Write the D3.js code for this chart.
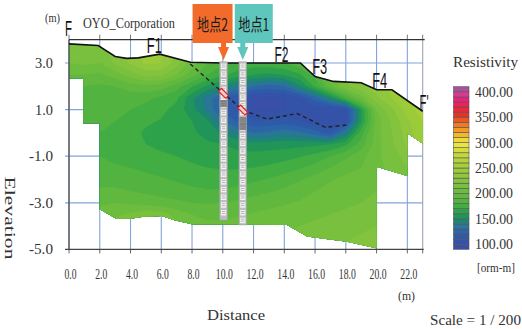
<!DOCTYPE html>
<html>
<head>
<meta charset="utf-8">
<script src="https://cdn.jsdelivr.net/npm/d3@7"></script>
<style>
  body { margin: 0; background: #fff; }
  svg { display: block; }
</style>
</head>
<body>
<svg id="chart" width="522" height="329"></svg>
<script>
// ---- axis ticks ----
const distTicks = [0, 2, 4, 6, 8, 10, 12, 14, 16, 18, 20, 22];
const elevTicks = [3, 1, -1, -3, -5];
const legendTicks = [400, 350, 300, 250, 200, 150, 100];

// ---- resistivity colour bands (ohm-m) ----
const bandEdges = [90, 100, 110, 120, 130, 140, 150, 160, 170, 180, 190, 200, 210, 220, 230, 240,
                   250, 260, 270, 280, 290, 300, 310, 320, 330, 340, 350, 360, 370, 380, 390, 400, 410];
const bandColors = ["#3a4fa8", "#3452a8", "#2f5aaa", "#2d66a8", "#2a7598", "#1f8478", "#21945a", "#2ea24a",
                    "#42ad42", "#52b340", "#60b83f", "#6cbc3e", "#78c03e", "#84c33d", "#90c73c", "#9ccb3a",
                    "#a8cf38", "#b6d337", "#c4d83a", "#d4dd3c", "#e8e442", "#f0d838", "#f2b82a", "#f29a24",
                    "#f07a22", "#ee5522", "#ea3028", "#ec2838", "#ee2258", "#e82080", "#d83a90", "#a8509c"];

// ---- measurement grid: distance (m) x elevation (m) ----
const gridDist = [0, 1, 2, 3, 4, 5, 6, 7, 8, 9, 10, 11, 12, 13, 14, 15, 16, 17, 18, 19, 20, 21, 22, 23];
const gridElev = [4, 3.5, 3, 2.5, 2, 1.5, 1, 0.5, 0, -0.5, -1, -1.5, -2, -2.5, -3, -3.5, -4, -4.5, -5];
const resistivity = [
  [222,220,218,228,236,244,244,232,210,192,184,180,178,178,182,190,205,220,228,235,240,245,255,265],
  [218,218,215,226,234,243,243,230,208,191,183,179,177,177,181,189,205,220,228,235,240,245,255,265],
  [210,212,210,222,232,242,240,225,205,190,182,178,176,176,180,188,205,220,228,235,240,245,255,265],
  [200,200,198,205,215,224,222,210,195,180,172,165,160,158,160,168,185,205,220,230,238,245,252,262],
  [192,190,188,190,195,198,195,185,170,158,148,138,130,125,128,148,172,198,218,228,235,242,250,260],
  [188,187,186,185,184,182,178,172,152,135,120,110,100, 98,100,108,125,148,178,205,228,240,250,260],
  [186,185,184,183,180,177,173,166,153,138,118,108, 98, 98,100,104,104,100,102,158,210,228,245,255],
  [185,184,182,180,176,172,169,165,160,152,132,118,112,112,115,110,102,100,106,158,205,222,238,250],
  [184,182,180,178,174,168,166,164,162,156,148,138,130,132,136,132,125,114,140,175,206,220,235,248],
  [183,181,180,177,173,170,167,165,163,162,160,157,155,156,156,157,158,160,168,185,206,218,232,245],
  [182,181,180,178,176,174,172,170,167,165,164,163,163,164,166,169,173,180,188,196,208,215,225,235],
  [183,182,182,181,180,178,176,174,172,170,169,169,170,172,175,179,184,190,196,200,208,212,220,230],
  [186,186,186,186,185,183,181,179,177,175,175,176,178,181,185,189,194,199,203,206,210,212,215,220],
  [192,192,192,192,190,188,186,184,182,181,181,183,186,189,192,196,200,204,206,208,210,212,214,218],
  [198,198,198,200,198,196,194,192,190,189,190,192,195,197,199,201,204,206,208,210,212,213,215,218],
  [205,205,205,208,212,218,215,206,200,198,198,199,201,203,204,206,208,210,212,214,216,217,218,220],
  [210,210,210,214,220,226,222,212,205,202,202,203,205,207,208,210,212,214,216,218,220,220,220,222],
  [212,212,212,216,222,228,225,215,208,205,205,206,208,210,211,213,215,217,219,221,222,222,222,224],
  [214,214,214,218,224,230,227,218,210,207,207,208,210,212,213,215,217,219,221,223,224,224,224,226]
];

// ---- ground surface (distance, elevation) ----
const surface = [[0, 3.82], [1.9, 3.75], [3.0, 3.28], [3.75, 3.20], [4.5, 3.22], [5.9, 3.38], [7.9, 3.03],
                 [10, 3.0], [15.05, 3.0], [16.0, 2.42], [17.2, 2.21], [19.0, 2.15], [20.0, 1.85],
                 [21.0, 1.85], [23.0, 0.93]];
// ---- limit of the analysed section, from the right end round to the left end ----
const sectionLimit = [[23, -0.45], [22, -0.02], [22, -1.85], [20, -1.45], [20, -4.95], [18.09, -4.67],
                      [15.49, -4.45], [14.18, -3.95], [10.27, -3.92], [7.99, -3.92], [6.8, -3.74],
                      [6.04, -3.57], [4.84, -3.6], [4.08, -3.67], [3.1, -3.7], [2.0, -3.28],
                      [2.0, 0.41], [0.93, 0.41], [0.93, 2.35], [0, 2.35]];
// ---- estimated slip surface ----
const slipSurface = [[7.88, 2.96], [10.05, 1.70], [11.3, 0.98], [12.88, 0.59], [14.83, 0.83],
                     [16.68, 0.24], [18.09, 0.34]];
// ---- fault labels ----
const faults = [
  { name: "F",  dist: -0.26, elev: 4.16 },
  { name: "F1", dist: 5.06,  elev: 3.43 },
  { name: "F2", dist: 13.36, elev: 3.06 },
  { name: "F3", dist: 15.81, elev: 2.53 },
  { name: "F4", dist: 19.72, elev: 1.93 },
  { name: "F'", dist: 22.8,  elev: 0.98 }
];
// ---- boreholes ----
const boreholes = [
  { name: "地点2", dist: 10.05, top: 3.05, bottom: -3.74, slip: 1.70, color: "#f26b2b", dark: [[1.41, 1.11]] },
  { name: "地点1", dist: 11.3,  top: 3.05, bottom: -3.95, slip: 0.98, color: "#5ec6bd", dark: [[0.68, 0.12]] }
];

// ================= drawing =================
const svg = d3.select("#chart");
const x = d3.scaleLinear().domain([0, 23]).range([69, 422.7]);
const y = d3.scaleLinear().domain([4, -5]).range([39.7, 249.4]);

function txt(parent, s, px, py, o = {}) {
  const t = parent.append("text").attr("x", px).attr("y", py).text(s)
    .attr("font-family", o.family || "'Liberation Serif', 'DejaVu Serif', serif")
    .attr("font-size", o.size || 14)
    .attr("fill", o.fill || "#333")
    .attr("text-anchor", o.anchor || "start");
  if (o.len) t.attr("textLength", o.len).attr("lengthAdjust", "spacingAndGlyphs");
  if (o.rotate) t.attr("transform", `rotate(${o.rotate},${px},${py})`);
  return t;
}

// grid
const grid = svg.append("g");
const gridColor = "#84a4da";
distTicks.concat([23]).forEach(d => {
  grid.append("line").attr("x1", x(d)).attr("x2", x(d)).attr("y1", y(4)).attr("y2", y(-5))
    .attr("stroke", d === 23 ? "#9aa4b4" : gridColor).attr("stroke-width", 1.1);
  grid.append("line").attr("x1", x(d)).attr("x2", x(d)).attr("y1", y(4) - 5).attr("y2", y(4))
    .attr("stroke", "#777").attr("stroke-width", 1);
  grid.append("line").attr("x1", x(d)).attr("x2", x(d)).attr("y1", y(-5)).attr("y2", y(-5) + 4)
    .attr("stroke", "#666").attr("stroke-width", 1);
});
elevTicks.filter(e => e > -5).forEach(e => {
  grid.append("line").attr("x1", x(0) - 4).attr("x2", x(23)).attr("y1", y(e)).attr("y2", y(e))
    .attr("stroke", gridColor).attr("stroke-width", 1.2);
});

// clip to the analysed section
const line = d3.line().x(d => x(d[0])).y(d => y(d[1]));
svg.append("clipPath").attr("id", "section")
  .append("path").attr("d", line(surface.concat(sectionLimit)) + "Z");

// filled resistivity contours
const nx = gridDist.length, ny = gridElev.length;
const dStep = gridDist[1] - gridDist[0], eStep = gridElev[0] - gridElev[1];
const values = resistivity.flat();
const bands = d3.contours().size([nx, ny]).thresholds(bandEdges.slice(0, -1))(values);
const proj = d3.geoTransform({
  point(px, py) {
    this.stream.point(x(gridDist[0] + (px - 0.5) * dStep), y(gridElev[0] - (py - 0.5) * eStep));
  }
});
const geo = d3.geoPath(proj);
const field = svg.append("g").attr("clip-path", "url(#section)");
bands.forEach((c, i) => {
  field.append("path").attr("d", geo(c)).attr("fill", bandColors[i])
    .attr("stroke", bandColors[i]).attr("stroke-width", 0.4);
});

// axes frame
svg.append("line").attr("x1", x(0)).attr("x2", x(23) + 2).attr("y1", y(4)).attr("y2", y(4))
  .attr("stroke", "#333").attr("stroke-width", 1.2);
svg.append("line").attr("x1", x(0)).attr("x2", x(0)).attr("y1", y(4)).attr("y2", y(-5))
  .attr("stroke", "#444").attr("stroke-width", 1.2);
svg.append("line").attr("x1", x(0) - 4).attr("x2", x(23) + 1).attr("y1", y(-5)).attr("y2", y(-5))
  .attr("stroke", "#444").attr("stroke-width", 1.2);

// ground surface
svg.append("path").attr("d", line(surface)).attr("fill", "none")
  .attr("stroke", "#111").attr("stroke-width", 1.6);

// boreholes
const bh = svg.append("g");
boreholes.forEach(b => {
  const cx = x(b.dist), yt = y(b.top), yb = y(b.bottom), w = 7.6;
  bh.append("rect").attr("x", cx - w / 2).attr("y", yt).attr("width", w).attr("height", yb - yt)
    .attr("fill", "#bdbdbd").attr("stroke", "#a0a0a0").attr("stroke-width", 0.6);
  const cellH = 7.7;
  for (let yy = yt + 1; yy + cellH - 1 < yb; yy += cellH) {
    bh.append("rect").attr("x", cx - 2.6).attr("y", yy + 0.8).attr("width", 5.2).attr("height", cellH - 2.2)
      .attr("fill", "#f4f4f4");
    [2.3, 4.3].forEach(o => bh.append("line").attr("x1", cx - 1.8).attr("x2", cx + 1.8)
      .attr("y1", yy + o).attr("y2", yy + o).attr("stroke", "#9a9a9a").attr("stroke-width", 0.7));
  }
  b.dark.forEach(r => {
    bh.append("rect").attr("x", cx - w / 2 + 0.5).attr("y", y(r[0])).attr("width", w - 1)
      .attr("height", y(r[1]) - y(r[0])).attr("fill", "#6a6a6a").attr("opacity", 0.75);
  });
});

// slip surface
svg.append("path").attr("d", line(slipSurface)).attr("fill", "none")
  .attr("stroke", "#222").attr("stroke-width", 1.4).attr("stroke-dasharray", "4,3");
boreholes.forEach(b => {
  const cx = x(b.dist), cy = y(b.slip);
  svg.append("rect").attr("x", cx - 5).attr("y", cy - 2).attr("width", 10).attr("height", 4)
    .attr("fill", "#f6d0d0").attr("stroke", "#e02020").attr("stroke-width", 1.2)
    .attr("transform", `rotate(45,${cx},${cy})`);
});

// borehole tags with arrows
boreholes.forEach((b, i) => {
  const cx = x(b.dist);
  const left = i === 0 ? cx - 31 : cx - 8, wBox = i === 0 ? 40 : 38;
  svg.append("rect").attr("x", left).attr("y", 4).attr("width", wBox).attr("height", 39).attr("fill", b.color);
  txt(svg, b.name, left + wBox / 2, 31, { family: "'Noto Sans CJK JP', sans-serif", size: 17,
    anchor: "middle", len: 31, fill: "#1a1a1a" });
  svg.append("rect").attr("x", cx - 2.5).attr("y", 42).attr("width", 5).attr("height", 6).attr("fill", b.color);
  svg.append("path").attr("d", `M${cx - 5.5},47 L${cx + 5.5},47 L${cx},60 Z`).attr("fill", b.color);
});

// fault labels
const faultWidths = { "F": 7, "F1": 15, "F2": 14, "F3": 15, "F4": 15, "F'": 9 };
faults.forEach(f => {
  txt(svg, f.name, x(f.dist), y(f.elev), { family: "'Liberation Sans', Arial, sans-serif", size: 22,
    len: faultWidths[f.name], fill: "#111" });
});

// axis labels
elevTicks.forEach(e => {
  const s = e.toFixed(1);
  txt(svg, s, 53, y(e) + 5, { anchor: "end", size: 14, len: s.length * 6 });
});
distTicks.forEach(d => {
  const s = d.toFixed(1);
  txt(svg, s, x(d) + 1.5, 279, { anchor: "middle", size: 14, len: s.length === 3 ? 12 : 17 });
});
txt(svg, "(m)", 45, 22, { size: 13, len: 15 });
txt(svg, "(m)", 406.5, 300, { anchor: "middle", size: 13, len: 17 });
txt(svg, "OYO_Corporation", 83, 28, { size: 15, len: 92 });
txt(svg, "Distance", 236, 320, { anchor: "middle", size: 15, len: 58 });
txt(svg, "Elevation", 5, 218, { anchor: "middle", size: 15, len: 83, rotate: 90 });
txt(svg, "Scale = 1 / 200", 430, 325, { size: 14, len: 91 });

// legend
const ly = d3.scaleLinear().domain([bandEdges[0], bandEdges[bandEdges.length - 1]]).range([249.3, 86.7]);
const lg = svg.append("g");
txt(lg, "Resistivity", 453, 67, { size: 15, len: 65 });
bandColors.forEach((c, i) => {
  lg.append("rect").attr("x", 453.5).attr("y", ly(bandEdges[i + 1])).attr("width", 15.5)
    .attr("height", ly(bandEdges[i]) - ly(bandEdges[i + 1])).attr("fill", c)
    .attr("stroke", "#555").attr("stroke-width", 0.6);
});
legendTicks.forEach(v => {
  txt(lg, v.toFixed(2), 475, ly(v) + 5, { size: 14, len: 38 });
});
txt(lg, "[orm-m]", 477, 272, { size: 13, len: 38 });
</script>
</body>
</html>
